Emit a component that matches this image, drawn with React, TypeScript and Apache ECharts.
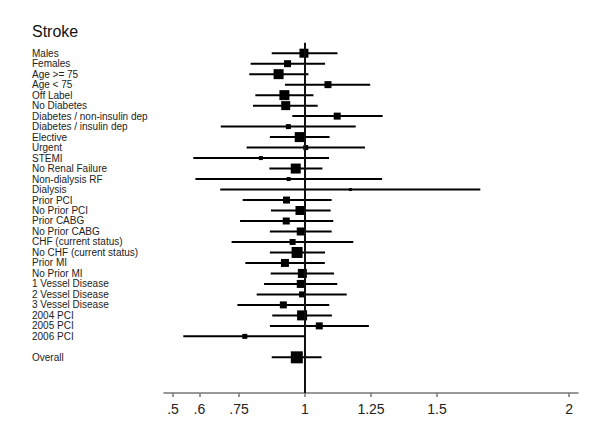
import React, { useEffect, useRef } from "react";
import * as echarts from "echarts";

const rowLabels = [
  "Males", "Females", "Age >= 75", "Age < 75", "Off Label", "No Diabetes",
  "Diabetes / non-insulin dep", "Diabetes / insulin dep", "Elective", "Urgent",
  "STEMI", "No Renal Failure", "Non-dialysis RF", "Dialysis", "Prior PCI",
  "No Prior PCI", "Prior CABG", "No Prior CABG", "CHF (current status)",
  "No CHF (current status)", "Prior MI", "No Prior MI", "1 Vessel Disease",
  "2 Vessel Disease", "3 Vessel Disease", "2004 PCI", "2005 PCI", "2006 PCI",
  "", "Overall",
];

const estimates = [
  0.996, 0.934, 0.9, 1.087, 0.922, 0.927, 1.122, 0.937, 0.98, 1.003,
  0.833, 0.965, 0.938, 1.172, 0.93, 0.981, 0.929, 0.984, 0.953, 0.97,
  0.924, 0.99, 0.984, 0.989, 0.918, 0.989, 1.054, 0.772, null, 0.969,
];
const lower = [
  0.874, 0.794, 0.789, 0.924, 0.812, 0.803, 0.952, 0.681, 0.867, 0.779,
  0.577, 0.865, 0.585, 0.679, 0.764, 0.871, 0.754, 0.867, 0.722, 0.867,
  0.774, 0.87, 0.845, 0.817, 0.744, 0.876, 0.867, 0.539, null, 0.874,
];
const upper = [
  1.123, 1.076, 1.013, 1.247, 1.032, 1.048, 1.294, 1.192, 1.093, 1.227,
  1.091, 1.066, 1.292, 1.664, 1.101, 1.097, 1.107, 1.101, 1.183, 1.076,
  1.075, 1.11, 1.122, 1.158, 1.092, 1.102, 1.242, 1.003, null, 1.063,
];
// relative study weights (box size)
const weights = [
  9, 7, 10, 7, 10, 9, 7, 5, 10, 5,
  4, 10, 4, 3, 7, 9, 7, 8, 6, 11,
  8, 9, 8, 6, 7, 10, 7, 5, null, 12,
];

const tickValues = [0.5, 0.6, 0.75, 1, 1.25, 1.5, 2];
const tickLabels = [".5", ".6", ".75", "1", "1.25", "1.5", "2"];

const FONT = "'Liberation Sans', Arial, sans-serif";

export default function App() {
  const ref = useRef<HTMLDivElement>(null);

  useEffect(() => {
    document.body.style.margin = "0";
    if (!ref.current) return;
    const chart = echarts.init(ref.current, null, { renderer: "svg" });

    const rows = rowLabels.map((_, i) => i + 1);
    const ciData: any[] = [];
    const pointData: any[] = [];
    rows.forEach((r, i) => {
      if (estimates[i] == null) return;
      ciData.push([lower[i], upper[i], r]);
      pointData.push({ value: [estimates[i], r], symbolSize: weights[i] });
    });
    const labelValues = rows.filter((_, i) => rowLabels[i] !== "");

    const yMax = 33.4;

    chart.setOption({
      animation: false,
      title: {
        text: "Stroke",
        left: 32,
        top: 23,
        padding: 0,
        textStyle: { fontSize: 16, fontWeight: "normal", color: "#111", fontFamily: FONT },
      },
      grid: { left: 164, right: 22, top: 42.7, bottom: 49, containLabel: false },
      xAxis: {
        type: "value",
        position: "bottom",
        min: 0.466,
        max: 2.034,
        axisLine: { show: true, onZero: false, lineStyle: { color: "#777", width: 1.5 } },
        axisTick: {
          show: true,
          length: 4,
          customValues: tickValues,
          lineStyle: { color: "#777", width: 1.5 },
        },
        axisLabel: {
          customValues: tickValues,
          formatter: (v: number) => {
            const idx = tickValues.findIndex((t) => Math.abs(t - v) < 1e-6);
            return idx >= 0 ? tickLabels[idx] : "";
          },
          fontSize: 14,
          color: "#222",
          fontFamily: FONT,
          margin: 9,
        },
        splitLine: { show: false },
      },
      yAxis: {
        type: "value",
        min: 0,
        max: yMax,
        inverse: true,
        axisLine: { show: false },
        axisTick: { show: false },
        splitLine: { show: false },
        axisLabel: {
          customValues: labelValues,
          formatter: (v: number) => rowLabels[Math.round(v) - 1] || "",
          align: "left",
          margin: 132,
          fontSize: 10,
          color: "#222",
          fontFamily: FONT,
        },
      },
      series: [
        {
          type: "custom",
          data: ciData,
          encode: { x: [0, 1], y: 2 },
          renderItem: (params: any, api: any) => {
            const p1 = api.coord([api.value(0), api.value(2)]);
            const p2 = api.coord([api.value(1), api.value(2)]);
            return {
              type: "line",
              shape: { x1: p1[0], y1: p1[1], x2: p2[0], y2: p2[1] },
              style: { stroke: "#000", lineWidth: 2 },
            };
          },
          silent: true,
        },
        {
          type: "line",
          data: [[1, 0], [1, yMax]],
          symbol: "none",
          lineStyle: { color: "#111", width: 2 },
          silent: true,
        },
        {
          type: "scatter",
          symbol: "rect",
          data: pointData,
          itemStyle: { color: "#000", opacity: 1 },
          silent: true,
        },
      ],
    });

    return () => chart.dispose();
  }, []);

  return <div ref={ref} style={{ width: 600, height: 442 }} />;
}
